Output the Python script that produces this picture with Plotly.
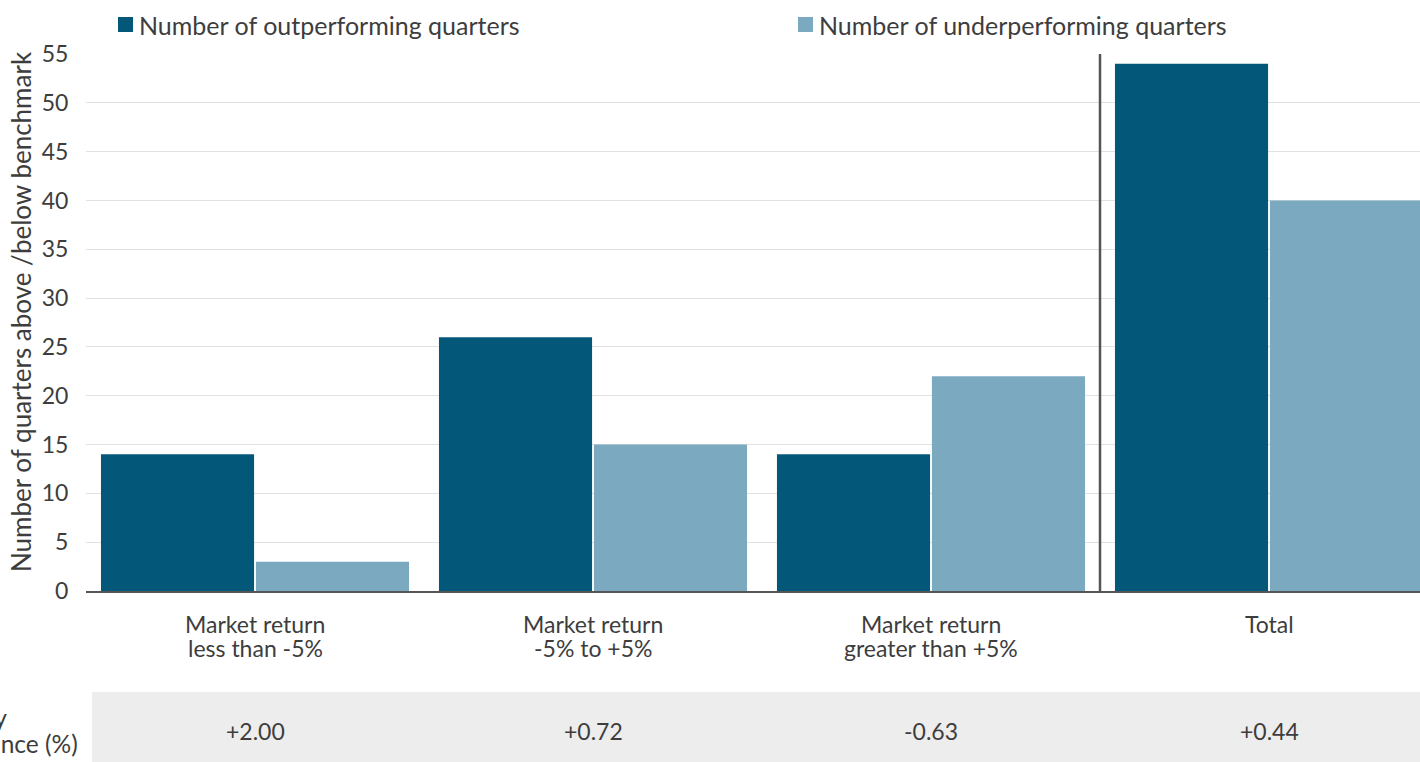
import plotly.graph_objects as go

categories = ["Market return<br>less than -5%", "Market return<br>-5% to +5%",
              "Market return<br>greater than +5%", "Total"]
outperforming = [14, 26, 14, 54]
underperforming = [3, 15, 22, 40]
avg_perf = ["+2.00", "+0.72", "-0.63", "+0.44"]
series_names = ["Number of outperforming quarters", "Number of underperforming quarters"]
y_title = "Number of quarters above /below benchmark"
row_label = ["Average quarterly", "relative performance (%)"]

W, H = 1420, 762
ML, MT, MB = 86, 54, 171
PW = W - ML
PH = H - MT - MB
FONT = "Lato, Noto Sans, sans-serif"
TXT = "#3d3d3d"
DARK = "#03587A"
LIGHT = "#7BA9C0"
colors = [DARK, LIGHT]

def px_x(p):
    return (p - ML) / PW

def px_y(p):
    return (H - MB - p) / PH

xs = list(range(len(categories)))

fig = go.Figure()
fig.add_trace(go.Bar(x=xs, y=outperforming, name=series_names[0], marker_color=DARK,
                     marker_line_width=0, showlegend=False))
fig.add_trace(go.Bar(x=xs, y=underperforming, name=series_names[1], marker_color=LIGHT,
                     marker_line_width=0, showlegend=False))

# separator before Total
fig.add_shape(type="line", xref="x", yref="y", x0=2.5, x1=2.5, y0=0, y1=55,
              line=dict(color="#555555", width=2.5))

# manual legend
leg_x = [118, 798]
for name, c, lx in zip(series_names, colors, leg_x):
    fig.add_shape(type="rect", xref="paper", yref="paper",
                  x0=px_x(lx), x1=px_x(lx + 15), y0=px_y(17), y1=px_y(32),
                  fillcolor=c, line_width=0)
    fig.add_annotation(x=px_x(lx + 19), xref="paper", y=px_y(25), yref="paper", text=name,
                       showarrow=False, xanchor="left", yanchor="middle",
                       font=dict(size=25, color=TXT, family=FONT))

# y-axis title
fig.add_annotation(x=px_x(21), xref="paper", y=px_y(312), yref="paper", text=y_title,
                   textangle=-90, showarrow=False, xanchor="center", yanchor="middle",
                   font=dict(size=26, color=TXT, family=FONT))

# category labels (one annotation per line)
for i, cat in enumerate(categories):
    for j, line in enumerate(cat.split("<br>")):
        fig.add_annotation(x=i, xref="x", y=px_y(624 + 24 * j), yref="paper", text=line,
                           showarrow=False, xanchor="center", yanchor="middle",
                           font=dict(size=23, color=TXT, family=FONT))

# bottom grey band
fig.add_shape(type="rect", xref="paper", yref="paper", x0=px_x(92), x1=px_x(1425),
              y0=px_y(692), y1=px_y(765), fillcolor="#ededed", line_width=0, layer="below")

for i, v in enumerate(avg_perf):
    fig.add_annotation(x=i, xref="x", y=px_y(731), yref="paper", text=v, showarrow=False,
                       font=dict(size=23, color=TXT, family=FONT), xanchor="center", yanchor="middle")

row_ends = [9, 80]
row_ys = [717, 744]
for line, xe, yc in zip(row_label, row_ends, row_ys):
    fig.add_annotation(x=px_x(xe), xref="paper", y=px_y(yc), yref="paper", text=line,
                       showarrow=False, xanchor="right", yanchor="middle",
                       font=dict(size=24.5, color=TXT, family=FONT))

fig.update_layout(
    width=W, height=H,
    margin=dict(l=ML, r=0, t=MT, b=MB, autoexpand=False),
    paper_bgcolor="white", plot_bgcolor="white",
    barmode="group", bargap=0.083, bargroupgap=0.012,
    font=dict(family=FONT, size=23, color=TXT),
    showlegend=False,
    xaxis=dict(range=[-0.5, -0.5 + PW / 338.0], tickmode="array", tickvals=xs,
               showticklabels=False, showgrid=False, zeroline=False,
               showline=True, linecolor="#555555", linewidth=2),
    yaxis=dict(range=[0, 55], dtick=5, tick0=0, showgrid=True, gridcolor="#e2e2e2",
               gridwidth=1, zeroline=False, showline=False,
               ticks="outside", ticklen=12, tickcolor="rgba(0,0,0,0)",
               tickfont=dict(size=23, color=TXT, family=FONT)),
)

fig.write_html("out.html")
